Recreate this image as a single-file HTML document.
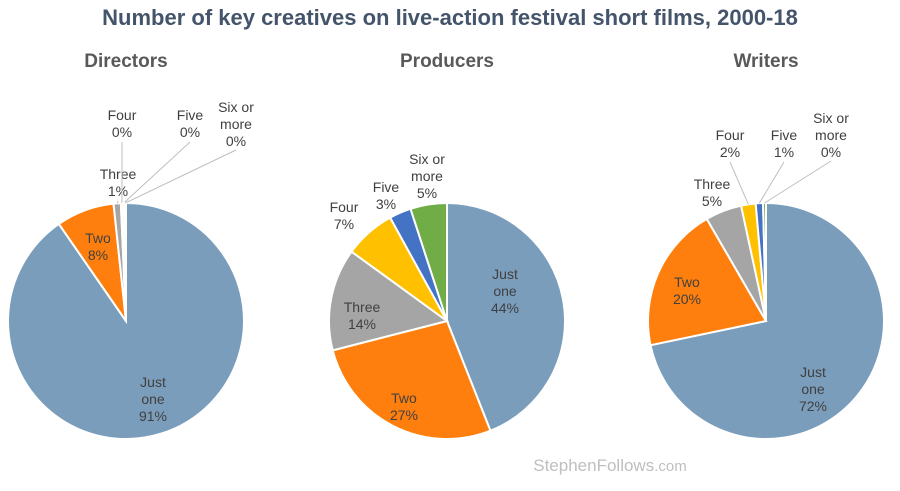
<!DOCTYPE html>
<html><head><meta charset="utf-8"><style>
body{margin:0;background:#fff;}
svg{display:block;font-family:"Liberation Sans",sans-serif;}
</style></head><body>
<svg id="c" width="900" height="491">
<text x="450" y="25" text-anchor="middle" font-size="22" font-weight="bold" fill="#44546a">Number of key creatives on live-action festival short films, 2000-18</text>
<text x="126" y="67" text-anchor="middle" font-size="19" font-weight="bold" fill="#595959">Directors</text>
<text x="447" y="67" text-anchor="middle" font-size="19" font-weight="bold" fill="#595959">Producers</text>
<text x="766" y="67" text-anchor="middle" font-size="19" font-weight="bold" fill="#595959">Writers</text>
<text x="610" y="471" text-anchor="middle" font-size="17" fill="#bfbfbf">StephenFollows<tspan font-size="15">.com</tspan></text>
</svg>
<script>
const categories=["Just one","Two","Three","Four","Five","Six or more"];
const directorsValues=[91,8,1,0.3,0.2,0.2];
const producersValues=[44,27,14,7,3,5];
const writersValues=[72,20,5,2,1,0.4];
const directorsLabels=["91%","8%","1%","0%","0%","0%"];
const producersLabels=["44%","27%","14%","7%","3%","5%"];
const writersLabels=["72%","20%","5%","2%","1%","0%"];
const colors=["#7b9dbc","#ff7f0e","#a5a5a5","#ffc000","#4472c4","#70ad47"];
const svg=document.getElementById('c');
const NS="http://www.w3.org/2000/svg";
const pies=[
 {name:"directors",cx:126,cy:321,r:118,vals:directorsValues,labs:directorsLabels,
  pos:[[153,375],[98,231],[118,167],[122,108],[190,108],[236,100]],out:[false,false,true,true,true,true]},
 {name:"producers",cx:447,cy:321,r:118,vals:producersValues,labs:producersLabels,
  pos:[[505,267],[404,391],[362,300],[344,200],[386,180],[427,152]],out:[false,false,false,false,false,false]},
 {name:"writers",cx:766,cy:321,r:118,vals:writersValues,labs:writersLabels,
  pos:[[813,365],[687,275],[712,177],[730,128],[784,128],[831,111]],out:[false,false,false,true,true,true]}
];
function pt(cx,cy,r,a){return [cx+r*Math.sin(a),cy-r*Math.cos(a)];}
pies.forEach(p=>{
 const tot=p.vals.reduce((s,v)=>s+v,0);
 let a0=0;
 p.vals.forEach((v,i)=>{
  const a1=a0+v/tot*2*Math.PI;
  const s=pt(p.cx,p.cy,p.r,a0),e=pt(p.cx,p.cy,p.r,a1);
  const path=document.createElementNS(NS,'path');
  path.setAttribute('d',`M${p.cx},${p.cy}L${s[0]},${s[1]}A${p.r},${p.r} 0 ${a1-a0>Math.PI?1:0} 1 ${e[0]},${e[1]}Z`);
  path.setAttribute('fill',colors[i]);path.setAttribute('stroke','#fff');path.setAttribute('stroke-width','2');
  
  
  svg.appendChild(path);
  const mid=(a0+a1)/2;
  const [lx,ly]=p.pos[i];
  if(p.out[i]){
   const m=pt(p.cx,p.cy,p.r,mid);
   const ln=document.createElementNS(NS,'line');
   ln.setAttribute('x1',m[0]);ln.setAttribute('y1',m[1]);
   const lines=categories[i].split(' ').length>2?3:2;
   ln.setAttribute('x2',lx);ln.setAttribute('y2',ly+lines*16+2);
   ln.setAttribute('stroke','#bfbfbf');ln.setAttribute('stroke-width','1');
   
   
   svg.appendChild(ln);
  }
  let words=categories[i]==="Just one"?["Just","one"]:categories[i]==="Six or more"?["Six or","more"]:[categories[i]];
  words=words.concat([p.labs[i]]);
  const t=document.createElementNS(NS,'text');
  t.setAttribute('text-anchor','middle');t.setAttribute('font-size','14');t.setAttribute('fill','#404040');
  
  
  words.forEach((w,k)=>{const ts=document.createElementNS(NS,'tspan');ts.setAttribute('x',lx);ts.setAttribute('y',ly+k*17+12);ts.textContent=w;t.appendChild(ts);});
  svg.appendChild(t);
  a0=a1;
 });
});
</script>
</body></html>
